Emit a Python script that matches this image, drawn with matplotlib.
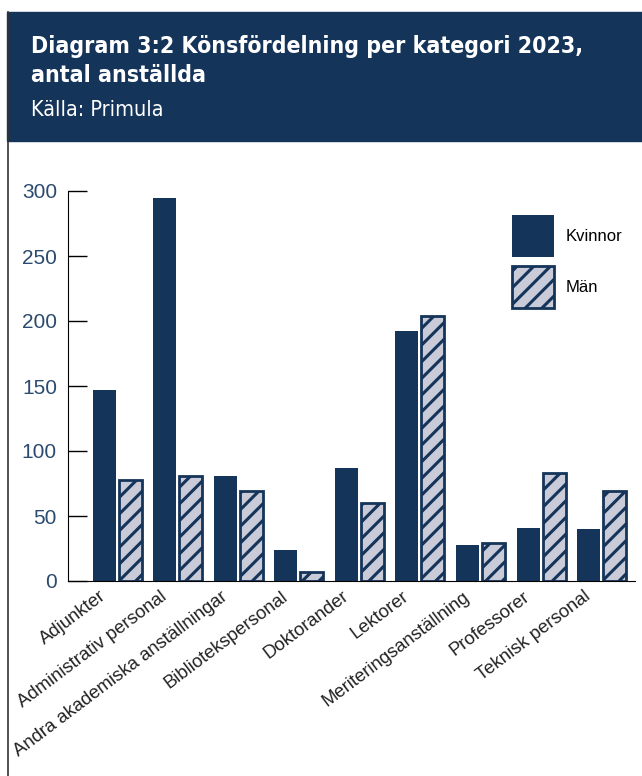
import matplotlib.pyplot as plt
import matplotlib.patches as mpatches
import matplotlib.transforms as mtransforms
import numpy as np

kategorier = ["Adjunkter", "Administrativ personal", "Andra akademiska anställningar",
              "Bibliotekspersonal", "Doktorander", "Lektorer", "Meriteringsanställning",
              "Professorer", "Teknisk personal"]
kvinnor = [147, 295, 81, 24, 87, 192, 28, 41, 40]
man = [78, 81, 69, 7, 60, 204, 29, 83, 69]

navy = "#15345a"
light = "#c9cbd9"

plt.rcParams["hatch.color"] = navy
plt.rcParams["hatch.linewidth"] = 2.2

fig = plt.figure(figsize=(6.42, 7.76), dpi=100)

# header
fig.patches.append(mpatches.Rectangle((7 / 642, 1 - 141 / 776), 1, 129 / 776,
                                      transform=fig.transFigure, color=navy, zorder=0))
fig.add_artist(plt.Line2D([7.5 / 642, 7.5 / 642], [0, 1 - 12 / 776], transform=fig.transFigure,
                          color="#333333", lw=1.2))
fig.text(31 / 642, 1 - 46 / 776, "Diagram 3:2 Könsfördelning per kategori 2023,",
         color="white", fontsize=16.6, fontweight="bold", stretch="condensed",
         family="DejaVu Sans", va="center")
fig.text(31 / 642, 1 - 76 / 776, "antal anställda",
         color="white", fontsize=16.6, fontweight="bold", stretch="condensed",
         family="DejaVu Sans", va="center")
fig.text(31 / 642, 1 - 110 / 776, "Källa: Primula", color="white", fontsize=15.5,
         family="DejaVu Sans", stretch="condensed", va="center")

ax = fig.add_axes([68 / 642, 1 - 581 / 776, (635 - 68) / 642, 390 / 776])
x = np.arange(len(kategorier))
w = 0.38
ax.bar(x - w / 2 - 0.025, kvinnor, w, color=navy, label="Kvinnor", zorder=2)
ax.bar(x + w / 2 + 0.025, man, w, color=light, edgecolor=navy, linewidth=2,
       hatch="//", label="Män", zorder=2)

ax.set_ylim(0, 300)
ax.set_xlim(-0.81, 8.55)
ax.set_yticks([0, 50, 100, 150, 200, 250, 300])
ax.tick_params(axis="y", direction="in", length=14, width=1, labelsize=15,
               labelcolor="#2b4a6f", pad=8)
ax.set_xticks(x)
ax.set_xticklabels(kategorier, rotation=37, ha="right", rotation_mode="anchor",
                   fontsize=13.3, color="#222222", family="Liberation Sans")
ax.tick_params(axis="x", length=0, pad=5)
shift = mtransforms.ScaledTranslation(-18 / 100, 0, fig.dpi_scale_trans)
for lab in ax.get_xticklabels():
    lab.set_transform(lab.get_transform() + shift)
for lab in ax.get_yticklabels():
    lab.set_family("Liberation Sans")
ax.spines["top"].set_visible(False)
ax.spines["right"].set_visible(False)

ax.legend(loc="upper left", bbox_to_anchor=(503 / 642 - 0.01, 1 - 200 / 776),
          bbox_transform=fig.transFigure, frameon=False,
          handlelength=2.55, handleheight=3.5, labelspacing=0.55, handletextpad=0.7,
          prop={"family": "Liberation Sans", "size": 12})

fig.savefig("out.png", dpi=100)
